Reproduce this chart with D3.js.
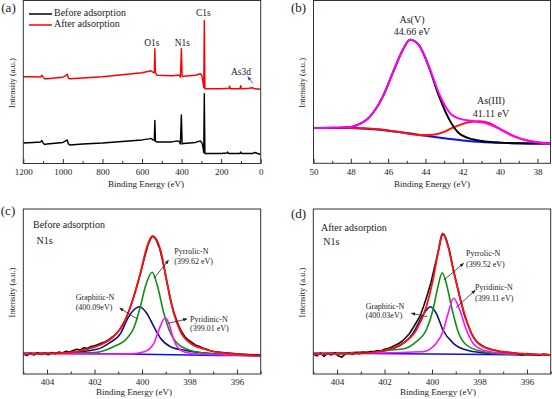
<!DOCTYPE html>
<html><head><meta charset="utf-8">
<script src="https://cdn.jsdelivr.net/npm/d3@7"></script>
<style>
body{margin:0;background:#fff}
svg{display:block}
text{font-family:"Liberation Serif","Times New Roman",serif;fill:#222}
</style>
</head><body>
<svg id="chart" width="552" height="399"></svg>
<script>
// ---------- Panel (a): XPS survey ----------
const surveyTicks = [1200, 1000, 800, 600, 400, 200, 0];
const surveyMinor = [1100, 900, 700, 500, 300, 100];
const surveyBefore = [[1200,20.5],[1150,21],[1112,21.5],[1106,23],[1100,20.5],[1092,19],[1080,19.5],[1000,21],[985,22.5],[978,23.5],[972,19.5],[965,18.5],[900,19.5],[800,20.5],[700,22],[600,23.5],[565,24.5],[555,25],[545,23.5],[538,23],[535,43],[532,22],[525,21.5],[450,21.5],[420,22.5],[412,22],[406,19.5],[401,48.5],[397,19.5],[390,20],[330,21],[305,22.5],[298,21],[293,17.5],[288,11],[285,69.5],[282,10],[250,10],[200,10],[170,10.5],[167,11.5],[163,10],[105,10],[101,11.5],[97,10],[40,10],[30,11],[0,9]];
const surveyAfter = [[1200,86.5],[1150,86.5],[1112,86.3],[1106,88],[1100,86],[1092,84.5],[1080,84.5],[1000,86],[985,87.5],[978,89],[972,85],[965,84.5],[900,85.3],[800,86.5],[700,88.5],[600,90.5],[565,92],[555,92.5],[545,91],[538,90.5],[535,114.5],[532,91],[525,88],[450,87.5],[420,88],[412,88],[406,86],[401,114.5],[397,87],[390,87],[330,88],[305,89.5],[298,88],[293,83],[288,75.5],[285,142.5],[282,74.5],[250,74.5],[200,74.5],[160,75],[157,77],[153,74.5],[105,74.5],[101,77.5],[97,74.5],[60,75],[40,75.5],[30,74.5],[0,74]];
const surveyLegend = ["Before adsorption", "After adsorption"];
const surveyPeaks = [["C1s",285,150],["O1s",535,121],["N1s",401,121]];

// ---------- Panel (b): As 3d ----------
const asTicks = [50, 48, 46, 44, 42, 40, 38];
const asMinor = [49, 47, 45, 43, 41, 39];
const asEnvelope = [[50,35.3],[49,35.5],[48,36.3],[47.7,38],[47,46.3],[46.3,66.3],[45.77,89.7],[45.23,113],[44.82,123.7],[44.34,118],[43.8,96.3],[43.27,69.7],[42.73,51.3],[42.2,44.7],[41.48,42.3],[40.77,40.3],[40.05,34.7],[39.34,28],[38.45,22.3],[37.3,19.7]];
const asV = [[50,35.3],[49,35.5],[48,36.3],[47.7,38],[47,46.3],[46.3,66.3],[45.77,89.7],[45.23,113],[44.82,123.7],[44.34,118],[43.8,95.5],[43.27,67],[42.73,44],[42.2,30],[41.48,24],[40.77,21.8],[40,20.7],[39,20],[38,19.8],[37.3,19.7]];
const asIII = [[50,35.3],[48,35.3],[46.5,34],[45.5,31.5],[44.9,29.7],[44.2,28],[43.6,28.5],[43.0,31.5],[42.5,36],[42.0,39.5],[41.5,41.5],[41.1,42],[40.6,40.5],[40.2,36.5],[39.7,31],[39.2,26.5],[38.6,23],[38,21],[37.3,20]];
const asBackground = [[50,35.3],[48,35.3],[47,34.3],[46,32.7],[45,30.3],[44,27.5],[43,25],[42,22.8],[41,21.2],[40,20.5],[38,19.8],[37.3,19.7]];
const asLabels = [["As(V)","44.66 eV"],["As(III)","41.11 eV"]];

// ---------- Panels (c),(d): N 1s ----------
const n1sTicks = [404, 402, 400, 398, 396];
const n1sMinor = [405, 403, 401, 399, 397, 395];
const cRaw = [[405,20],[404.85,18.5],[404.7,20.8],[404.55,19],[404.4,21.2],[404.25,19.6],[404.1,20.9],[403.95,19.2],[403.8,21.5],[403.65,20.3],[403.5,22],[403.35,21],[403.2,22.8],[403.05,21.9],[402.9,23.5],[402.75,24.8],[402.6,24],[402.45,26.3],[402.3,25.6],[402.15,27.5],[402,28.2],[401.85,29.5],[401.7,31],[401.55,32.2],[401.4,34.3],[401.25,37],[401.1,40],[400.95,44],[400.8,50],[400.65,57],[400.5,66],[400.35,77],[400.2,89],[400.05,102],[399.9,116],[399.75,129],[399.6,137],[399.5,137.5],[399.4,134],[399.25,125],[399.1,110],[398.95,92],[398.8,74],[398.65,61],[398.5,51],[398.35,43],[398.2,37.5],[398.05,34],[397.9,31.5],[397.75,29],[397.6,27.8],[397.45,26],[397.3,25],[397.15,23.5],[397,22.5],[396.5,21.3],[396,20.2],[395.5,19.5],[395,19]];
const cFit = [[405,19.7],[404,20.5],[403,21.5],[402.47,24],[401.76,29],[401.2,37.3],[400.77,50.7],[400.35,77.3],[400.07,100.7],[399.79,127.3],[399.56,138],[399.22,124],[398.94,90.7],[398.66,60.7],[398.38,42.3],[397.96,30.7],[397.25,24],[396.13,20],[395,18.3]];
const cPyrrolic = [[405,20.5],[402,21.5],[401.2,27.3],[400.63,35.7],[400.35,45.7],[400.07,67.3],[399.86,87.3],[399.57,101.7],[399.36,89],[399.08,60.7],[398.8,40.7],[398.52,30.7],[398.1,24.7],[397.5,21.3],[396,19],[395,18.5]];
const cGraphitic = [[405,20.5],[403.17,21.3],[401.9,24.7],[401.4,30.7],[400.9,40.7],[400.6,55.7],[400.35,64],[400.1,67.3],[399.8,60.7],[399.5,47.3],[399.22,35.7],[398.8,27.3],[398.1,23.3],[397.2,20.7],[395,18.5]];
const cPyridinic = [[405,20.5],[400.6,20],[399.9,22.3],[399.5,30.7],[399.29,44],[399.02,56.3],[398.87,50.7],[398.66,34],[398.38,24],[397.96,20.7],[397.3,19.7],[395,18.5]];
const cBackground = [[405,20.7],[402,20.3],[400,19.7],[398,19],[396,18.5],[395,18.3]];

const dRaw = [[405,20],[404.85,18],[404.7,21],[404.55,17.5],[404.4,20.5],[404.25,19],[404.1,21.3],[403.95,18.2],[403.8,16.8],[403.65,20.2],[403.5,21],[403.35,19.6],[403.2,21.5],[403.05,20.3],[402.9,21.8],[402.75,20.8],[402.6,22.5],[402.45,22],[402.3,23.5],[402.15,23],[402,24.8],[401.85,25.5],[401.7,27],[401.55,28.7],[401.4,30.5],[401.25,33],[401.1,36.5],[400.95,40.5],[400.8,46],[400.65,52],[400.5,58],[400.35,68],[400.2,79],[400.05,91],[399.9,106],[399.75,121],[399.6,138],[399.5,140],[399.4,135],[399.25,122],[399.1,104],[398.95,89],[398.8,74],[398.65,60],[398.5,50],[398.35,41],[398.2,35],[398.05,31],[397.9,28.5],[397.75,26.5],[397.6,25.5],[397.45,24],[397.3,23.5],[397.15,22.5],[397,22],[396.5,21],[396.2,19],[396,20.5],[395.5,18.5],[395.3,20],[395,19]];
const dFit = [[405,20],[403,20.7],[401.93,24],[401.23,30.7],[400.66,44],[400.24,67.3],[399.96,94],[399.75,120.7],[399.56,140.7],[399.32,127.3],[399.1,104],[398.83,77.3],[398.55,54],[398.27,37.3],[397.85,27.3],[397.0,22.3],[396,20],[395,19]];
const dPyrrolic = [[405,20],[401.23,25],[400.66,32.3],[400.24,44],[399.96,64],[399.75,87.3],[399.57,101.3],[399.4,90.7],[399.18,67.3],[398.9,42.3],[398.55,29],[397.85,22.3],[397,20],[395,19]];
const dGraphitic = [[405,20.5],[402.35,22.3],[401.37,28.3],[400.8,40.7],[400.38,59],[400.07,67.3],[399.82,60.7],[399.54,44],[399.1,30.7],[398.55,24],[397.6,20.7],[395,19]];
const dPyridinic = [[405,20],[400.38,22.3],[399.82,30.7],[399.54,42.3],[399.32,60.7],[399.09,75.7],[398.83,64],[398.55,44],[398.27,30.7],[397.85,24],[397,20.7],[395,19]];
const dBackground = [[405,20.7],[400,20],[395,19]];

const cTitle = ["Before adsorption", "N1s"];
const dTitle = ["After adsorption", "N1s"];
const cNames = [["Pyrrolic-N","(399.62 eV)"],["Graphitic-N","(400.09eV)"],["Pyridinic-N","(399.01 eV)"]];
const dNames = [["Pyrrolic-N","(399.52 eV)"],["Graphitic-N","(400.03eV)"],["Pyridinic-N","(399.11 eV)"]];

// ---------- drawing ----------
const FONT = '"Liberation Serif","Times New Roman",serif';
const svg = d3.select("#chart");
const defs = svg.append("defs");
function mk(id, color){
  defs.append("marker").attr("id", id).attr("viewBox","0 0 10 10").attr("refX",8).attr("refY",5)
    .attr("markerWidth",5.5).attr("markerHeight",5.5).attr("orient","auto-start-reverse")
    .append("path").attr("d","M0,1 L10,5 L0,9 z").attr("fill", color);
}
mk("arrBlack", "#222");
mk("arrBlue", "#3a3ad0");

let clipN = 0;
function panel(box, xDom, yDom, majors, minors, label, labelPos){
  const x = d3.scaleLinear().domain(xDom).range([box.l, box.r]);
  const y = d3.scaleLinear().domain(yDom).range([box.b, box.t]);
  const g = svg.append("g");
  const id = "clip" + (clipN++);
  defs.append("clipPath").attr("id", id).append("rect")
    .attr("x", box.l).attr("y", box.t).attr("width", box.r - box.l).attr("height", box.b - box.t);
  const plot = g.append("g").attr("clip-path", `url(#${id})`);
  const axMinor = d3.axisBottom(x).tickValues(minors).tickSize(-2.5).tickFormat("");
  g.append("g").attr("transform", `translate(0,${box.b})`).call(axMinor)
    .call(s => s.select(".domain").remove()).selectAll("line").attr("stroke","#333");
  const axMajor = d3.axisBottom(x).tickValues(majors).tickSize(-4.5).tickPadding(5).tickFormat(d3.format("d"));
  const ag = g.append("g").attr("transform", `translate(0,${box.b})`).call(axMajor);
  ag.attr("font-family", FONT);
  ag.select(".domain").remove();
  ag.selectAll("line").attr("stroke","#333");
  ag.selectAll("text").attr("font-size", 9).attr("font-family", FONT).attr("fill","#333");
  g.append("rect").attr("x", box.l).attr("y", box.t).attr("width", box.r - box.l).attr("height", box.b - box.t)
    .attr("fill","none").attr("stroke","#333").attr("stroke-width",1);
  g.append("text").attr("x", (box.l + box.r)/2 + box.xt).attr("y", box.b + box.yt).attr("text-anchor","middle")
    .attr("dominant-baseline","middle").attr("font-size", 9).attr("fill","#333").text("Binding Energy (eV)");
  g.append("text").attr("transform", `translate(${box.l - 10},${(box.t + box.b)/2 + 1}) rotate(-90)`)
    .attr("text-anchor","middle").attr("dominant-baseline","middle").attr("font-size", 8.5).attr("fill","#333")
    .text("Intensity (a.u.)");
  g.append("text").attr("x", labelPos[0]).attr("y", labelPos[1]).attr("text-anchor","middle")
    .attr("dominant-baseline","middle").attr("font-size", 13).attr("fill","#111").text(label);
  return {x, y, g, plot};
}
function drawLine(p, data, color, w, curve){
  const line = d3.line().x(d => p.x(d[0])).y(d => p.y(d[1])).curve(curve || d3.curveMonotoneX);
  p.plot.append("path").datum([...data].sort((a,b)=>a[0]-b[0])).attr("d", line)
    .attr("fill","none").attr("stroke", color).attr("stroke-width", w).attr("stroke-linejoin","round");
}
function txt(g, s, x, y, size, anchor, color){
  g.append("text").attr("x", x).attr("y", y).attr("font-size", size).attr("text-anchor", anchor || "start")
    .attr("dominant-baseline","middle").attr("fill", color || "#222").text(s);
}
function arrow(g, x1, y1, x2, y2, color, marker){
  g.append("line").attr("x1",x1).attr("y1",y1).attr("x2",x2).attr("y2",y2)
    .attr("stroke", color).attr("stroke-width",0.8).attr("marker-end", `url(#${marker})`);
}

// Panel (a)
const pa = panel({l:23.3, r:260.7, t:0.5, b:163.5, xt:4, yt:21.5}, [1200, 0], [0, 162.5], surveyTicks, surveyMinor, "(a)", [8.5, 9]);
drawLine(pa, surveyBefore, "#000", 1.4, d3.curveLinear);
drawLine(pa, surveyAfter, "#ff0000", 1.4, d3.curveLinear);
pa.g.append("line").attr("x1",29).attr("x2",52).attr("y1",14).attr("y2",14).attr("stroke","#000").attr("stroke-width",1.5);
pa.g.append("line").attr("x1",29).attr("x2",52).attr("y1",25).attr("y2",25).attr("stroke","#ff0000").attr("stroke-width",1.5);
txt(pa.g, surveyLegend[0], 54, 14, 10);
txt(pa.g, surveyLegend[1], 54, 25, 10);
txt(pa.g, surveyPeaks[0][0], pa.x(surveyPeaks[0][1]) - 1, 13.5, 9.5, "middle");
txt(pa.g, surveyPeaks[1][0], pa.x(surveyPeaks[1][1]) - 3, 44, 9.5, "middle");
txt(pa.g, surveyPeaks[2][0], pa.x(surveyPeaks[2][1]) + 1, 44, 9.5, "middle");
txt(pa.g, "As3d", 241, 72.5, 9.5, "middle");
arrow(pa.g, 253, 83.5, 248, 77, "#3a3ad0", "arrBlue");

// Panel (b)
const pb = panel({l:313.5, r:550.5, t:0.5, b:163.3, xt:0, yt:21.5}, [50, 37.3], [0, 163], asTicks, asMinor, "(b)", [298.5, 9]);
drawLine(pb, asBackground, "#1010ee", 2);
drawLine(pb, asIII, "#ff1010", 2);
drawLine(pb, asV, "#000", 2);
drawLine(pb, asEnvelope, "#ff00ff", 2);
txt(pb.g, asLabels[0][0], 412, 21, 10, "middle");
txt(pb.g, asLabels[0][1], 412, 32.5, 10, "middle");
txt(pb.g, asLabels[1][0], 491, 101.5, 10, "middle");
txt(pb.g, asLabels[1][1], 491, 115, 10, "middle");

// Panel (c)
const pc = panel({l:23.3, r:260.7, t:209, b:374, xt:-8, yt:19}, [405, 395], [0, 165], n1sTicks, n1sMinor, "(c)", [8, 212]);
drawLine(pc, cBackground, "#1010ee", 1.6);
drawLine(pc, cGraphitic, "#101080", 1.6);
drawLine(pc, cPyrrolic, "#109010", 1.6);
drawLine(pc, cPyridinic, "#ff10ff", 1.6);
drawLine(pc, cRaw, "#111", 1.6, d3.curveLinear);
drawLine(pc, cFit, "#ff1010", 1.8);
txt(pc.g, cTitle[0], 33, 226, 10);
txt(pc.g, cTitle[1], 36.5, 241.5, 10);
txt(pc.g, cNames[0][0], 174.3, 252, 8);
txt(pc.g, cNames[0][1], 174.3, 262, 8);
txt(pc.g, cNames[1][0], 75.7, 298.5, 8);
txt(pc.g, cNames[1][1], 75.7, 308, 8);
txt(pc.g, cNames[2][0], 190, 320, 8);
txt(pc.g, cNames[2][1], 190, 329.5, 8);
arrow(pc.g, 154, 278.3, 168.3, 260.5, "#222", "arrBlack");
arrow(pc.g, 137.3, 319, 120, 308.3, "#222", "arrBlack");
arrow(pc.g, 168.3, 323.3, 186.7, 319, "#222", "arrBlack");

// Panel (d)
const pd = panel({l:313.3, r:550.7, t:209, b:374, xt:6, yt:19}, [405, 395], [0, 165], n1sTicks, n1sMinor, "(d)", [298.5, 215]);
drawLine(pd, dBackground, "#1010ee", 1.6);
drawLine(pd, dGraphitic, "#101080", 1.6);
drawLine(pd, dPyrrolic, "#109010", 1.6);
drawLine(pd, dPyridinic, "#ff10ff", 1.6);
drawLine(pd, dRaw, "#111", 1.6, d3.curveLinear);
drawLine(pd, dFit, "#ff1010", 1.8);
txt(pd.g, dTitle[0], 321, 228.3, 10);
txt(pd.g, dTitle[1], 323.3, 242.7, 10);
txt(pd.g, dNames[0][0], 466, 254.5, 8);
txt(pd.g, dNames[0][1], 466, 265, 8);
txt(pd.g, dNames[1][0], 365.7, 306.7, 8);
txt(pd.g, dNames[1][1], 365.7, 316, 8);
txt(pd.g, dNames[2][0], 475, 288.3, 8);
txt(pd.g, dNames[2][1], 475, 299, 8);
arrow(pd.g, 444, 280, 463.3, 263.5, "#222", "arrBlack");
arrow(pd.g, 427.3, 316.7, 411.7, 313.3, "#222", "arrBlack");
arrow(pd.g, 456, 307.7, 475, 290.5, "#222", "arrBlack");
</script>
</body></html>
